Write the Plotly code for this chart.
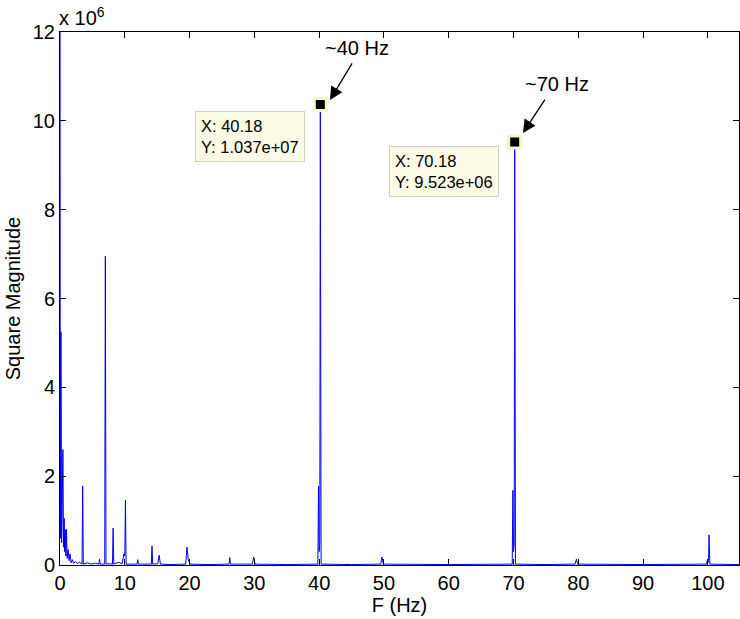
import plotly.graph_objects as go

# Spectrum samples (frequency in Hz, square magnitude)
freq = [0.0, 0.05, 0.15, 0.25, 0.32, 0.45, 0.55, 0.65, 0.72, 0.8, 0.9, 1.0, 1.1, 1.25, 1.4, 1.55, 1.7, 1.9, 2.1, 2.4, 2.7, 3.0,
        3.4, 3.5, 3.6, 4.2, 4.8, 5.5, 6.0, 6.1, 6.2, 6.9, 7.0, 7.1, 7.6, 8.1, 8.2, 8.3, 9.0, 9.6, 9.75, 9.85, 10.0, 10.1, 10.2,
        11.5, 11.9, 12.0, 12.1, 13.5, 14.1, 14.2, 14.3, 15.1, 15.3, 15.5, 17.0, 19.4, 19.6, 19.8, 20.1, 23.0, 26.1, 26.2, 26.3,
        29.7, 29.9, 30.1, 35.0, 39.8, 39.9, 40.0, 40.1, 40.18, 40.3, 45.0, 49.5, 49.7, 49.9, 60.0, 69.8, 69.9, 70.0, 70.1,
        70.18, 70.3, 75.0, 79.5, 79.7, 79.9, 90.0, 99.8, 99.9, 100.0, 100.1, 100.18, 100.3, 104.8]
mag = [15.0e6, 0.6e6, 5.25e6, 0.5e6, 1.05e6, 2.6e6, 0.4e6, 1.05e6, 0.3e6, 0.8e6, 0.2e6, 0.8e6, 0.15e6, 0.35e6, 0.1e6, 0.25e6,
       0.05e6, 0.12e6, 0.04e6, 0.08e6, 0.03e6, 0.06e6,
       0.02e6, 1.78e6, 0.02e6, 0.05e6, 0.02e6, 0.04e6, 0.02e6, 0.13e6, 0.02e6, 0.02e6, 6.95e6, 0.02e6, 0.03e6, 0.02e6, 0.83e6,
       0.02e6, 0.06e6, 0.03e6, 0.15e6, 0.25e6, 0.2e6, 1.46e6, 0.02e6,
       0.02e6, 0.02e6, 0.12e6, 0.02e6, 0.02e6, 0.02e6, 0.43e6, 0.02e6, 0.03e6, 0.22e6, 0.02e6, 0.01e6, 0.02e6, 0.4e6, 0.12e6,
       0.02e6, 0.01e6, 0.02e6, 0.17e6, 0.02e6,
       0.02e6, 0.18e6, 0.02e6, 0.01e6, 0.02e6, 1.78e6, 0.3e6, 0.5e6, 10.37e6, 0.02e6, 0.01e6, 0.02e6, 0.18e6, 0.02e6, 0.01e6,
       0.02e6, 1.68e6, 0.3e6, 0.5e6,
       9.523e6, 0.02e6, 0.01e6, 0.02e6, 0.13e6, 0.02e6, 0.01e6, 0.02e6, 0.1e6, 0.05e6, 0.1e6, 0.68e6, 0.02e6, 0.01e6]

tip_x = [40.18, 70.18]
tip_y = [1.037e7, 9.523e6]
tip_labels = ["X: 40.18<br>Y: 1.037e+07", "X: 70.18<br>Y: 9.523e+06"]
peak_labels = ["~40 Hz", "~70 Hz"]

y_ticks = [0, 2e6, 4e6, 6e6, 8e6, 10e6, 12e6]
y_ticktext = ["0", "2", "4", "6", "8", "10", "12"]
x_ticks = [0, 10, 20, 30, 40, 50, 60, 70, 80, 90, 100]

FONT = "Liberation Sans, Arial, Helvetica, sans-serif"
FS = 20

fig = go.Figure()
fig.add_trace(go.Scatter(x=freq, y=mag, mode="lines",
                         line=dict(color="#0000ff", width=1), showlegend=False, hoverinfo="skip"))
fig.add_trace(go.Scatter(x=tip_x, y=tip_y, mode="markers",
                         marker=dict(symbol="square", size=12, color="black",
                                     line=dict(color="#f6f6cc", width=3)),
                         showlegend=False, hoverinfo="skip"))

# datatip boxes
box_pos = [(29.4, 9.65e6), (59.34, 8.85e6)]
for (bx, by), txt in zip(box_pos, tip_labels):
    fig.add_annotation(x=bx, y=by, text=txt, showarrow=False, align="left",
                       xanchor="center", yanchor="middle",
                       font=dict(family=FONT, size=16.5, color="black"),
                       bgcolor="#fbfbe6", bordercolor="#cfcfc0", borderwidth=1, borderpad=5)

# arrows and peak labels
label_pos = [(45.9, 11.64e6), (76.7, 10.83e6)]
head_pos = [(41.67, 10.47e6), (71.45, 9.725e6)]
tails = [(23, -38), (23, -35)]
for (lx, ly), (hx, hy), (ax, ay), txt in zip(label_pos, head_pos, tails, peak_labels):
    fig.add_annotation(x=lx, y=ly, text=txt, showarrow=False,
                       font=dict(family=FONT, size=FS, color="black"))
    fig.add_annotation(x=hx, y=hy, ax=ax, ay=ay, text="", showarrow=True,
                       arrowhead=2, arrowsize=2.0, arrowwidth=1.3, arrowcolor="black", standoff=0)

# exponent label
fig.add_annotation(xref="paper", yref="paper", x=0, y=1, xanchor="left", yanchor="bottom",
                   yshift=1, xshift=-3, text="x 10<sup>6</sup>", showarrow=False,
                   font=dict(family=FONT, size=FS, color="black"))

axis_common = dict(showline=True, linecolor="black", linewidth=1, mirror="ticks",
                   ticks="inside", ticklen=6, tickcolor="black", showgrid=False, zeroline=False,
                   tickfont=dict(family=FONT, size=FS, color="black"))

fig.update_xaxes(range=[0, 104.8], tickvals=x_ticks,
                 title=dict(text="F (Hz)", font=dict(family=FONT, size=FS, color="black"), standoff=2),
                 **axis_common)
fig.update_yaxes(range=[0, 12e6], tickvals=y_ticks, ticktext=y_ticktext,
                 title=dict(text="Square Magnitude", font=dict(family=FONT, size=FS, color="black"), standoff=6),
                 **axis_common)

fig.update_layout(width=740, height=619, margin=dict(l=60, r=1, t=32, b=54),
                  plot_bgcolor="white", paper_bgcolor="white",
                  font=dict(family=FONT, color="black"))

fig.write_html("out.html")
